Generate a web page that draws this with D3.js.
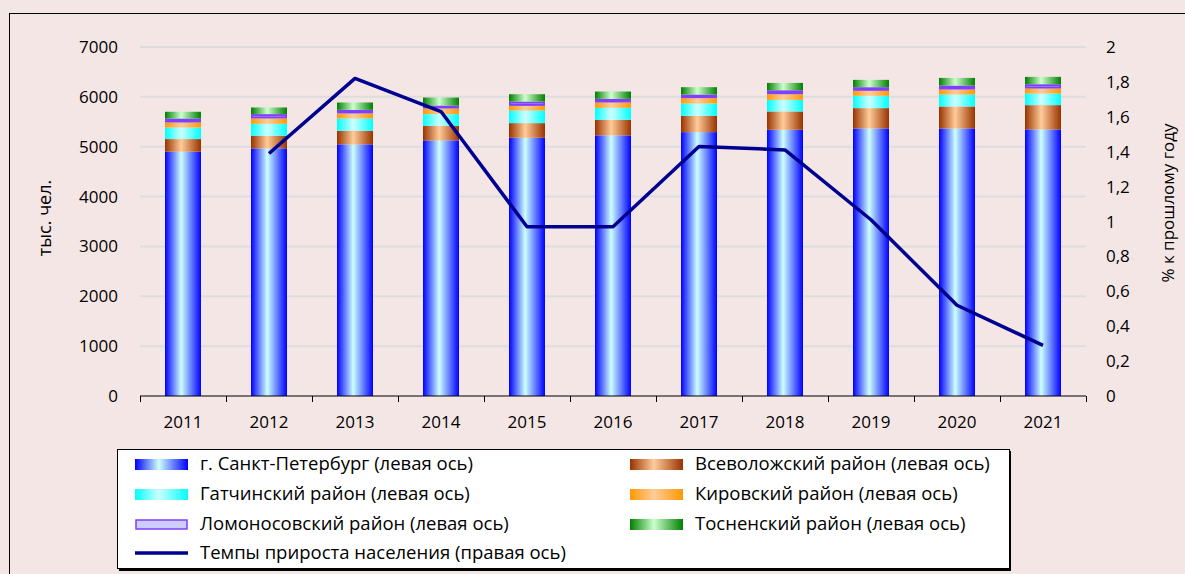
<!DOCTYPE html>
<html>
<head>
<meta charset="utf-8">
<script src="https://cdn.jsdelivr.net/npm/d3@7"></script>
<style>
  body { margin: 0; background: #f5e6e6; }
  svg { display: block; font-family: "Open Sans", Lato, sans-serif; }
</style>
</head>
<body>
<svg id="chart" width="1185" height="574"></svg>
<script>
const years = ['2011', '2012', '2013', '2014', '2015', '2016', '2017', '2018', '2019', '2020', '2021'];

// тыс. чел.
const spb        = [4900, 4967, 5047, 5127, 5180, 5227, 5293, 5340, 5367, 5367, 5347];
const vsevolozhsk = [253, 253, 273, 293, 293, 313, 327, 367, 407, 440, 487];
const gatchina   = [233, 240, 247, 233, 253, 240, 247, 233, 247, 240, 233];
const kirovsky   = [100, 107, 100, 113, 93, 107, 107, 113, 100, 100, 100];
const lomonosov  = [80, 87, 73, 60, 87, 73, 73, 80, 73, 80, 87];
const tosno      = [135, 133, 147, 160, 147, 147, 147, 147, 147, 153, 147];

// % к прошлому году
const growth = [null, 1.39, 1.82, 1.63, 0.97, 0.97, 1.43, 1.41, 1.01, 0.52, 0.29];

const leftTicks = [0, 1000, 2000, 3000, 4000, 5000, 6000, 7000];
const rightTicks = [0, 0.2, 0.4, 0.6, 0.8, 1, 1.2, 1.4, 1.6, 1.8, 2];

const series = [
    {key: 'spb', name: 'г. Санкт-Петербург (левая ось)', values: spb, edge: '#0000ff', mid: '#ccffff', stroke: 'none'},
    {key: 'vsev', name: 'Всеволожский район (левая ось)', values: vsevolozhsk, edge: '#993300', mid: '#ffcc99', stroke: 'none'},
    {key: 'gat', name: 'Гатчинский район (левая ось)', values: gatchina, edge: '#00ffff', mid: '#ccffff', stroke: 'none'},
    {key: 'kir', name: 'Кировский район (левая ось)', values: kirovsky, edge: '#ff9900', mid: '#ffcc99', stroke: 'none'},
    {key: 'lom', name: 'Ломоносовский район (левая ось)', values: lomonosov, edge: '#ccccff', mid: '#ccccff', stroke: '#7f3fff'},
    {key: 'tos', name: 'Тосненский район (левая ось)', values: tosno, edge: '#008000', mid: '#ccffcc', stroke: 'none'}
];

const svg = d3.select('#chart');
const plot = {left: 140, right: 1086, top: 47, bottom: 396};

// frame
svg.append('rect')
    .attr('x', 9.5).attr('y', 13.5)
    .attr('width', 1190).attr('height', 600)
    .attr('fill', '#f5e6e6').attr('stroke', '#000').attr('stroke-width', 1);

const defs = svg.append('defs');
series.forEach(s => {
    const g = defs.append('linearGradient')
        .attr('id', 'grad-' + s.key)
        .attr('x1', '0%').attr('x2', '100%').attr('y1', '0%').attr('y2', '0%');
    g.append('stop').attr('offset', '0%').attr('stop-color', s.edge);
    g.append('stop').attr('offset', '45%').attr('stop-color', s.mid);
    g.append('stop').attr('offset', '100%').attr('stop-color', s.edge);
});

const x = d3.scaleBand().domain(years).range([plot.left, plot.right]);
const y = d3.scaleLinear().domain([0, 7000]).range([plot.bottom, plot.top]);
const y2 = d3.scaleLinear().domain([0, 2]).range([plot.bottom, plot.top]);

// gridlines
svg.append('g')
    .selectAll('line')
    .data(leftTicks.slice(1))
    .enter()
    .append('line')
    .attr('x1', plot.left).attr('x2', plot.right)
    .attr('y1', d => y(d)).attr('y2', d => y(d))
    .attr('stroke', '#dddddd').attr('stroke-width', 2);

// stacked bars
const table = years.map((yr, i) => {
    const row = {year: yr};
    series.forEach(s => row[s.key] = s.values[i]);
    return row;
});
const stacked = d3.stack().keys(series.map(s => s.key))(table);
const barW = 36;

svg.append('g')
    .selectAll('g')
    .data(stacked)
    .enter()
    .append('g')
    .each(function (layer, li) {
        const s = series[li];
        const inset = s.stroke !== 'none' ? 1 : 0;
        d3.select(this).selectAll('rect')
            .data(layer)
            .enter()
            .append('rect')
            .attr('x', d => x(d.data.year) + (x.bandwidth() - barW) / 2 + inset)
            .attr('y', d => y(d[1]) + inset)
            .attr('width', barW - 2 * inset)
            .attr('height', d => Math.max(0, y(d[0]) - y(d[1]) - 2 * inset))
            .attr('fill', 'url(#grad-' + s.key + ')')
            .attr('stroke', s.stroke)
            .attr('stroke-width', 2);
    });

// x axis
const xAxis = svg.append('g').attr('transform', `translate(0,${plot.bottom})`);
xAxis.append('line')
    .attr('x1', plot.left).attr('x2', plot.right)
    .attr('stroke', '#000');
xAxis.selectAll('line.tick')
    .data(years.concat(['end']))
    .enter()
    .append('line')
    .attr('class', 'tick')
    .attr('x1', (d, i) => plot.left + i * x.bandwidth() + 0.5)
    .attr('x2', (d, i) => plot.left + i * x.bandwidth() + 0.5)
    .attr('y1', 0).attr('y2', 6)
    .attr('stroke', '#000');
xAxis.selectAll('text')
    .data(years)
    .enter()
    .append('text')
    .attr('x', d => x(d) + x.bandwidth() / 2)
    .attr('y', 32)
    .attr('text-anchor', 'middle')
    .attr('font-size', 17)
    .text(d => d);

// left axis labels
svg.append('g')
    .selectAll('text')
    .data(leftTicks)
    .enter()
    .append('text')
    .attr('x', 118)
    .attr('y', d => y(d) + 6)
    .attr('text-anchor', 'end')
    .attr('font-size', 17)
    .text(d => d);

svg.append('text')
    .attr('transform', 'translate(51,218) rotate(-90)')
    .attr('text-anchor', 'middle')
    .attr('font-size', 18)
    .text('тыс. чел.');

// right axis labels
const fmt = d => String(d).replace('.', ',');
svg.append('g')
    .selectAll('text')
    .data(rightTicks)
    .enter()
    .append('text')
    .attr('x', 1106)
    .attr('y', d => y2(d) + 6)
    .attr('font-size', 17)
    .text(fmt);

svg.append('text')
    .attr('transform', 'translate(1174,203) rotate(-90)')
    .attr('text-anchor', 'middle')
    .attr('font-size', 17)
    .text('% к прошлому году');

// growth line
const line = d3.line()
    .defined(d => d.v !== null)
    .x(d => x(d.year) + x.bandwidth() / 2)
    .y(d => y2(d.v));

svg.append('path')
    .datum(years.map((yr, i) => ({year: yr, v: growth[i]})))
    .attr('d', line)
    .attr('fill', 'none')
    .attr('stroke', '#000090')
    .attr('stroke-width', 3.5)
    .attr('stroke-linejoin', 'round');

// legend
const legend = svg.append('g');
legend.append('rect')
    .attr('x', 119).attr('y', 451)
    .attr('width', 892).attr('height', 120)
    .attr('fill', '#000');
legend.append('rect')
    .attr('x', 117.5).attr('y', 449.5)
    .attr('width', 892).attr('height', 119)
    .attr('fill', '#fff').attr('stroke', '#000').attr('stroke-width', 1);

const legendItems = series.map((s, i) => ({
    s: s,
    col: i % 2,
    row: Math.floor(i / 2)
}));
legendItems.push({s: null, col: 0, row: 3});

const colX = [135, 630];
const rowY = [464, 494, 524, 553];

legendItems.forEach(it => {
    const gx = colX[it.col];
    const gy = rowY[it.row];
    if (it.s) {
        const inset = it.s.stroke !== 'none' ? 1 : 0;
        legend.append('rect')
            .attr('x', gx + inset)
            .attr('y', gy - 5 + inset)
            .attr('width', 53 - 2 * inset)
            .attr('height', 11 - 2 * inset)
            .attr('fill', 'url(#grad-' + it.s.key + ')')
            .attr('stroke', it.s.stroke)
            .attr('stroke-width', 1.5);
    } else {
        legend.append('line')
            .attr('x1', gx).attr('x2', gx + 53)
            .attr('y1', gy).attr('y2', gy)
            .attr('stroke', '#000090').attr('stroke-width', 3.5);
    }
    legend.append('text')
        .attr('x', gx + 65)
        .attr('y', gy + 6)
        .attr('font-size', 18.5)
        .text(it.s ? it.s.name : 'Темпы прироста населения (правая ось)');
});
</script>
</body>
</html>
